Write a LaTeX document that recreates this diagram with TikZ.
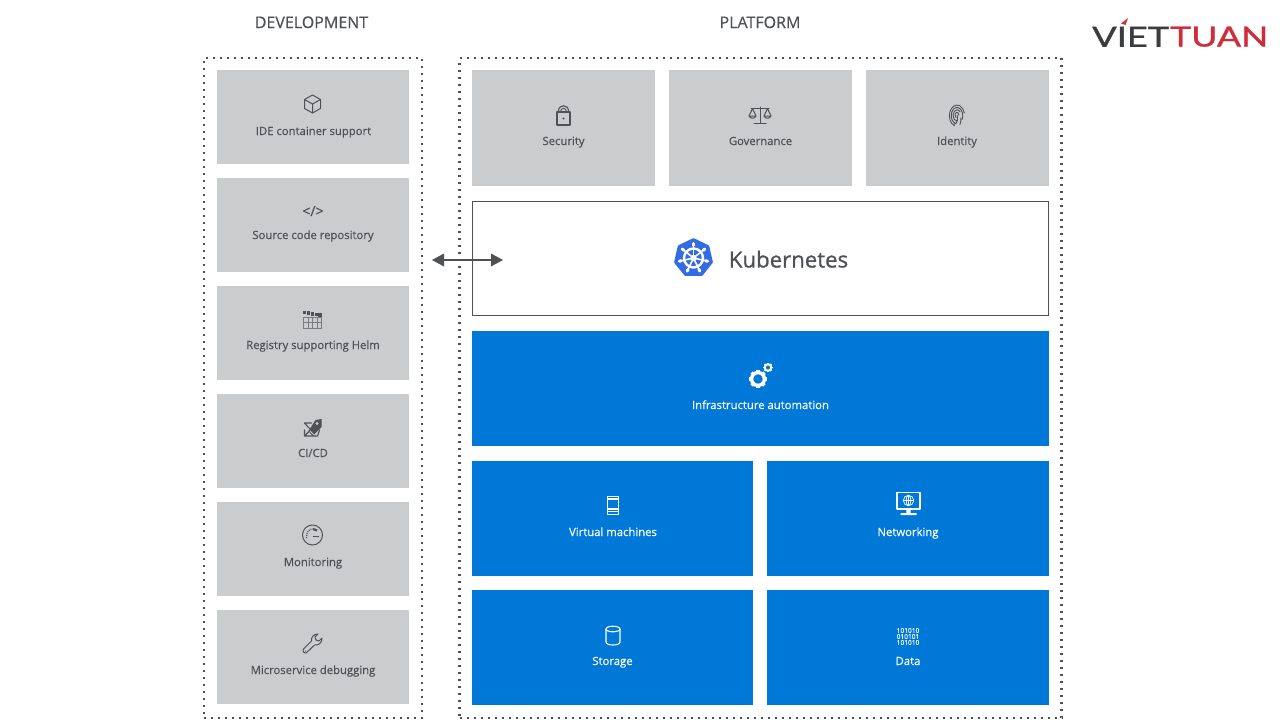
\documentclass[tikz,border=0pt]{standalone}
\usepackage{fontspec}
\usepackage{graphicx}
\setmainfont{Open Sans}
\newfontfamily\labfont{Open Sans}[FakeBold=0.35]
\newfontfamily\bigfont{Open Sans}[FakeBold=0.9]
\newfontfamily\logofont{Lato}[FakeBold=1.0]
\definecolor{ink}{HTML}{4F5155}
\definecolor{tilegrey}{HTML}{CBCCCE}
\definecolor{msblue}{HTML}{0078D7}
\definecolor{kblue}{HTML}{326CE5}
\definecolor{logored}{HTML}{CF2E38}
\definecolor{logodark}{HTML}{3A3C40}
\tikzset{
  greytile/.style={fill=tilegrey,draw=none,inner sep=0pt,outer sep=0pt},
  bluetile/.style={fill=msblue,draw=none,inner sep=0pt,outer sep=0pt},
  whitetile/.style={fill=white,draw=ink,line width=1pt,inner sep=0pt,outer sep=0pt},
  frame/.style={draw=ink,line width=2.4pt,dash pattern=on 2pt off 5pt,inner sep=0pt,outer sep=0pt},
  lab/.style={anchor=base,inner sep=0pt,text=ink,font=\labfont\fontsize{11.3}{12}\selectfont},
  wlab/.style={anchor=base,inner sep=0pt,text=white,font=\labfont\fontsize{11.3}{12}\selectfont},
  head/.style={anchor=base,inner sep=0pt,text=ink,font=\labfont\fontsize{16}{18}\selectfont},
  ico/.style={draw=ink,line width=1pt,line join=round,line cap=round},
  wico/.style={draw=white,line width=1.1pt,line join=round,line cap=round},
}
\newcommand{\cogicon}[4]{% x y radius ringwidth
  \draw[white,line width=#4] (#1,#2) circle (#3);
  \foreach \a in {0,45,...,315}
    \draw[white,line width=#3*0.55pt] ($(#1,#2)+(\a:#3*0.95)$) -- ($(#1,#2)+(\a:#3*1.42)$);
}
\usetikzlibrary{calc}
\begin{document}
\begin{tikzpicture}[x=1pt,y=-1pt]
\useasboundingbox (0,0) rectangle (1280,720);
\fill[white] (0,0) rectangle (1280,720);

% headings
\node[head] (devhead) at (311.5,28) {DEVELOPMENT};
\node[head] (plathead) at (760,28) {PLATFORM};

% left tiles
\node[greytile,minimum width=192pt,minimum height=94pt] (ide) at (313,117) {};
\node[greytile,minimum width=192pt,minimum height=94pt] (src) at (313,225) {};
\node[greytile,minimum width=192pt,minimum height=94pt] (reg) at (313,333) {};
\node[greytile,minimum width=192pt,minimum height=94pt] (cicd) at (313,441) {};
\node[greytile,minimum width=192pt,minimum height=94pt] (mon) at (313,549) {};
\node[greytile,minimum width=192pt,minimum height=94pt] (dbg) at (313,657) {};

% platform tiles
\node[greytile,minimum width=183pt,minimum height=116pt] (sec) at (563.5,128) {};
\node[greytile,minimum width=183pt,minimum height=116pt] (gov) at (760.5,128) {};
\node[greytile,minimum width=183pt,minimum height=116pt] (idn) at (957.5,128) {};
\node[whitetile,minimum width=576pt,minimum height=114pt] (k8s) at (760.5,258.5) {};
\node[bluetile,minimum width=577pt,minimum height=115pt] (infra) at (760.5,388.5) {};
\node[bluetile,minimum width=281pt,minimum height=115pt] (vm) at (612.5,518.5) {};
\node[bluetile,minimum width=282pt,minimum height=115pt] (net) at (908,518.5) {};
\node[bluetile,minimum width=281pt,minimum height=115pt] (sto) at (612.5,647.5) {};
\node[bluetile,minimum width=282pt,minimum height=115pt] (dat) at (908,647.5) {};

% dotted frames
\node[frame,minimum width=218pt,minimum height=660pt] (devframe) at (313,388) {};
\node[frame,minimum width=602pt,minimum height=660pt] (platframe) at (760.5,388) {};

% labels
\node[lab] (l1) at (313.5,135) {IDE container support};
\node[lab] (l2) at (313,239) {Source code repository};
\node[lab] (l3) at (313,349) {Registry supporting Helm};
\node[lab] (l4) at (313,457) {CI/CD};
\node[lab] (l5) at (313,566) {Monitoring};
\node[lab] (l6) at (313,674) {Microservice debugging};
\node[lab] (l7) at (563.5,145) {Security};
\node[lab] (l8) at (760.5,145) {Governance};
\node[lab] (l9) at (957,145) {Identity};
\node[wlab] (l10) at (760.5,409) {Infrastructure automation};
\node[wlab] (l11) at (613,536) {Virtual machines};
\node[wlab] (l12) at (908,536) {Networking};
\node[wlab] (l13) at (612.5,665) {Storage};
\node[wlab] (l14) at (908,665) {Data};
\node[anchor=base,inner sep=0pt,text=ink,font=\bigfont\fontsize{22.2}{24}\selectfont] (kname) at (788.5,267.5) {Kubernetes};

% arrow
\coordinate (arL) at (432,260);
\coordinate (arR) at (503,260);
\draw[draw=ink,line width=2.6pt] ($(arL)+(8,0)$) -- ($(arR)+(-8,0)$);
\fill[ink] (arL) -- ++(12,-6.5) -- ++(0,13) -- cycle;
\fill[ink] (arR) -- ++(-12,-6.5) -- ++(0,13) -- cycle;

% cube
\begin{scope}[shift={(312.5,104)}]
 \draw[ico] (0,-9) -- (8,-4.5) -- (8,4.5) -- (0,9) -- (-8,4.5) -- (-8,-4.5) -- cycle;
 \draw[ico] (-8,-4.5) -- (0,0) -- (8,-4.5) (0,0) -- (0,9);
\end{scope}
% code
\node[anchor=base,inner sep=0pt,text=ink,font=\labfont\fontsize{14}{15}\selectfont] (codeicon) at (313,216) {</>};
% registry
\begin{scope}[shift={(312.5,320)}]
 \foreach \x/\y in {-8/-7.5,-4/-6.9,0/-6.3,4/-5.7,7.5/-5}
   \fill[ink] (\x-1.8,\y-1.8) rectangle (\x+1.8,\y+1.8);
 \draw[ink!75,line width=0.6pt] (-9,-2.5) rectangle (9,8);
 \draw[ink!75,line width=0.6pt] (-9,2.7) -- (9,2.7)
   (-4.5,-2.5) -- (-4.5,8) (0,-2.5) -- (0,8) (4.5,-2.5) -- (4.5,8);
\end{scope}
% ci/cd
\begin{scope}[shift={(312.5,428)}]
 \draw[ico,line width=1.1pt] (-8,-5) -- (-1,-5) (-8,-5) -- (-2.5,1) (-8,2) -- (-8,8) -- (-2,8) (-8,8) -- (-3,3) (-2,8)--(5,8)--(7,2);
 \fill[ink] (9,-9) -- (9,-1) -- (0,8) -- (-4,3) -- (3,-8) -- cycle;
 \fill[tilegrey] (4.5,-4.5) circle (1.6);
 \draw[tilegrey,line width=0.8pt] (-2.5,3) -- (1,6.5);
\end{scope}
% monitoring
\begin{scope}[shift={(312.5,535)}]
 \draw[ico] (0,0) circle (10);
 \draw[ink,line width=1.2pt,dash pattern=on 1pt off 1pt] (-6,3) .. controls (-6.5,-3) and (-3,-6) .. (0,-6.2);
 \draw[ink,line width=2.2pt] (0.5,-6) -- (4.5,-4.5);
 \draw[ink,line width=1.1pt] (0,1.5) -- (6.5,1.5);
\end{scope}
% wrench
\begin{scope}[shift={(312.5,643.5)}]
 \draw[ico] (-9,5.5) -- (-1,-2.5) .. controls (-1.5,-6) and (1,-9.5) .. (5.5,-9.5)
   -- (2.5,-6.5) -- (3.5,-3.5) -- (6.5,-2.5) -- (9.5,-5.5)
   .. controls (10,-1) and (5.5,2.5) .. (2,1.5) -- (-6,9.2)
   .. controls (-8,10.5) and (-10.5,7.5) .. (-9,5.5) -- cycle;
 \fill[ink] (-7,7.5) circle (0.7);
\end{scope}
% padlock
\begin{scope}[shift={(563.5,115)}]
 \draw[ico,line width=1.1pt] (-6.5,-3) rectangle (6.5,10);
 \draw[ico,line width=1.1pt] (-5,-3) -- (-5,-4) .. controls (-5,-11) and (5,-11) .. (5,-4) -- (5,-3);
 \draw[ico,line width=0.9pt] (-2.7,-3) -- (-2.7,-4) .. controls (-2.7,-7.5) and (2.7,-7.5) .. (2.7,-4) -- (2.7,-3);
 \fill[ink] (0,3.5) circle (1.2);
\end{scope}
% scales
\begin{scope}[shift={(760,115)}]
 \draw[ico] (0,-8) -- (0,8) (-6,8.5) -- (6,8.5) (-9,-6.5) -- (9,-6.5);
 \draw[ico] (-11,1) -- (-7.5,-6.5) -- (-4,1) (11,1) -- (7.5,-6.5) -- (4,1);
 \draw[ico] (-11,1) .. controls (-10,4) and (-5,4) .. (-4,1) -- cycle;
 \draw[ico] (11,1) .. controls (10,4) and (5,4) .. (4,1) -- cycle;
\end{scope}
% fingerprint
\begin{scope}[shift={(957,115)}]
 \foreach \r/\s/\e in {2/120/360,4/90/320,5.8/100/390,7.6/110/345}
   \draw[ico,line width=0.9pt] (\s:\r*1 and \r*1.5) arc[start angle=\s,end angle=\e,x radius=\r,y radius=\r*1.4];
 \draw[ico,line width=0.9pt] (-3,9.5) .. controls (1,8) and (1,3) .. (0,0);
 \draw[ico,line width=0.9pt] (3,9.5) .. controls (4,7) and (4,5) .. (3.8,3);
\end{scope}
% kubernetes wheel
\begin{scope}[shift={(693.5,258)}]
 \fill[kblue,draw=kblue,line width=3pt,line join=round] plot[samples at={0,1,2,3,4,5,6}] ({18.3*cos(-90+\x*360/7)},{18.3*sin(-90+\x*360/7)}) -- cycle;
 \draw[white,line width=2.4pt] (0,0) circle (9.5);
 \foreach \k in {0,...,6} {
   \draw[white,line width=1.6pt,line cap=round] (-90+\k*360/7:3) -- (-90+\k*360/7:15);
   \draw[white,line width=3pt,line cap=round] (-90+\k*360/7:12.5) -- (-90+\k*360/7:14.5);
 }
 \fill[white] (0,0) circle (3.2);
\end{scope}
% gears
\cogicon{758}{379}{6.4}{3.4pt}
\cogicon{768}{367.5}{3.3}{2pt}
% phone
\begin{scope}[shift={(613,505.5)}]
 \draw[wico,line width=1.3pt] (-5.5,-9) rectangle (5.5,9);
 \draw[wico,line width=1.1pt] (-5.5,-6.5) -- (5.5,-6.5) (-5.5,3.5) -- (5.5,3.5) (-5.5,6.2) -- (5.5,6.2);
\end{scope}
% monitor
\begin{scope}[shift={(908.5,503)}]
 \draw[wico,line width=1.3pt] (-11.5,-10.5) rectangle (11.5,6);
 \fill[white] (-2.2,6) rectangle (2.2,10) (-8,10) rectangle (8,12);
 \draw[white,line width=0.7pt] (0,-2.5) circle (5.2) (-5.2,-2.5) -- (5.2,-2.5) (0,-7.7) -- (0,2.7);
 \draw[white,line width=0.7pt] (0,-2.5) ellipse (2.4 and 5.2);
\end{scope}
% cylinder
\begin{scope}[shift={(613,635.5)}]
 \draw[wico] (-7,-6.5) -- (-7,6.5) .. controls (-7,10.5) and (7,10.5) .. (7,6.5) -- (7,-6.5);
 \draw[wico] (0,-6.5) ellipse (7 and 2.8);
\end{scope}
% data glyphs
\node[anchor=center,inner sep=0pt,text=white,align=center,font=\labfont\fontsize{6.6}{6}\selectfont] (dataicon) at (908,636.5) {101010\\010101\\101010};

% logo
\node[anchor=south west,inner sep=0pt,text=logodark] (logoA) at (1092,47) {\resizebox{77pt}{20pt}{\logofont VIET}};
\node[anchor=south west,inner sep=0pt,text=logored] (logoB) at (1170,47) {\resizebox{98pt}{20pt}{\logofont TUAN}};
\fill[logored] (1121,23.5) -- (1128,18) -- (1125.5,25) -- cycle;
\end{tikzpicture}
\end{document}
